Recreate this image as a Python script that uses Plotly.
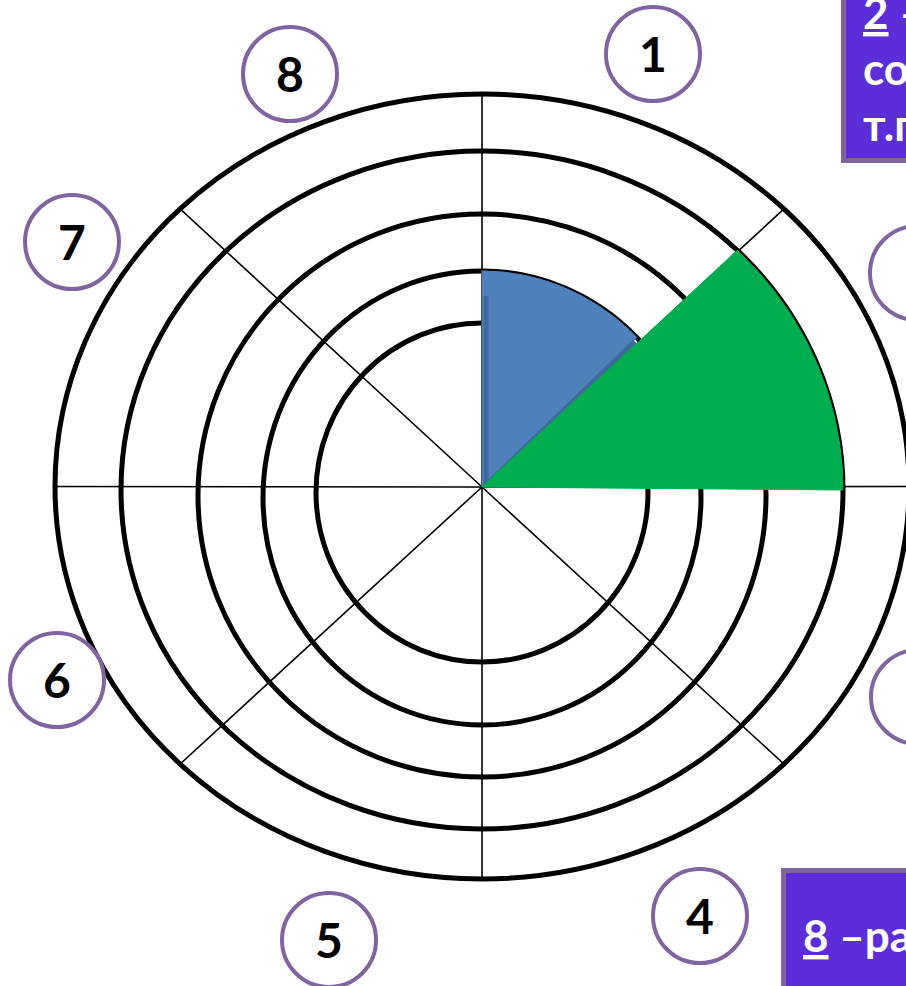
import numpy as np
import plotly.graph_objects as go

# ---------------- data ----------------
segments = ["1", "2", "3", "4", "5", "6", "7", "8"]      # sector labels, clockwise from top
segment_levels = [2, 4, 0, 0, 0, 0, 0, 0]                 # ring level reached by each sector
segment_colors = ["#4F81BD", "#00AE4F", None, None, None, None, None, None]
ring_levels = [1, 2, 3, 4, 5]
legend_top_lines = ["<u>2</u> –", "со", "т.п"]
legend_bottom_line = "<u>8</u> –ра"

# ---------------- layout geometry (pixels, centre of chart = origin) ----------------
W, H = 906, 986
CX, CY = 482, 487
ring_rx = [166, 219, 284, 361, 427]
ring_ry = [169.5, 227, 281.5, 339, 392.5]
ring_dy = [-5.5, -11, -8.5, -3, 0.5]
label_pos = {"1": (653, 54), "2": (917, 273), "3": (918, 697), "4": (700, 916),
             "5": (329, 940), "6": (57, 680), "7": (72, 242), "8": (290, 74)}
LABEL_R = 47


def px(x, y):
    return x - CX, CY - y


def ring_point(level, t):
    i = ring_levels.index(level)
    return ring_rx[i] * np.cos(t), ring_dy[i] + ring_ry[i] * np.sin(t)


fig = go.Figure()

shapes = []
# rings
for i, lv in enumerate(ring_levels):
    shapes.append(dict(type="circle", xref="x", yref="y", layer="below",
                       x0=-ring_rx[i], x1=ring_rx[i],
                       y0=ring_dy[i] - ring_ry[i], y1=ring_dy[i] + ring_ry[i],
                       line=dict(color="black", width=5)))
# spokes (sector borders)
n = len(segments)
for k in range(n):
    t = np.deg2rad(90 - 360 / n * k)
    ex, ey = ring_point(ring_levels[-1], t)
    shapes.append(dict(type="line", xref="x", yref="y", layer="below",
                       x0=0, y0=0, x1=ex, y1=ey,
                       line=dict(color="black", width=1.6)))

# sectors
for k, (lab, lv, col) in enumerate(zip(segments, segment_levels, segment_colors)):
    if lv <= 0 or col is None:
        continue
    t0 = np.deg2rad(90 - 360 / n * k)
    t1 = np.deg2rad(90 - 360 / n * (k + 1))
    ts = np.linspace(t0, t1, 60)
    ax_, ay_ = ring_point(lv, ts)
    xs = np.concatenate([[0], ax_, [0]])
    ys = np.concatenate([[0], ay_, [0]])
    fig.add_trace(go.Scatter(x=xs, y=ys, mode="lines", fill="toself",
                             fillcolor=col, line=dict(color=col, width=1),
                             hoverinfo="skip", showlegend=False))
    if k == 0:
        # darker bevel along the radial edges of the blue sector
        sx, sy = ring_point(lv, t0)
        ex, ey = ring_point(lv, t1)
        fig.add_trace(go.Scatter(x=[sx + 4, sx + 4, ex - 2], y=[sy - 25, 2, ey - 4], mode="lines",
                                 line=dict(color="#3E6A9C", width=5),
                                 hoverinfo="skip", showlegend=False))

# label circles
annotations = []
for lab in segments:
    cx, cy = px(*label_pos[lab])
    shapes.append(dict(type="circle", xref="x", yref="y", layer="above",
                       x0=cx - LABEL_R, x1=cx + LABEL_R, y0=cy - LABEL_R, y1=cy + LABEL_R,
                       fillcolor="white", line=dict(color="#8064A2", width=4)))
    annotations.append(dict(x=cx, y=cy + 1, xref="x", yref="y", text="<b>%s</b>" % lab,
                            showarrow=False, xanchor="center", yanchor="middle",
                            font=dict(family="Lato", size=48, color="black")))

# legend boxes
bx0, by0 = px(843.5, 160.5)
shapes.append(dict(type="rect", xref="x", yref="y", layer="above",
                   x0=bx0, x1=bx0 + 300, y0=by0, y1=by0 + 300,
                   fillcolor="#5B2ED9", line=dict(color="#8064A2", width=5)))
bx1, by1 = px(783.5, 870.5)
shapes.append(dict(type="rect", xref="x", yref="y", layer="above",
                   x0=bx1, x1=bx1 + 300, y0=by1 - 300, y1=by1,
                   fillcolor="#5B2ED9", line=dict(color="#8064A2", width=5)))

for i, line in enumerate(legend_top_lines):
    x, y = px(861, 12 + 56 * i)
    annotations.append(dict(x=x, y=y, xref="x", yref="y", text="<b>%s</b>" % line,
                            showarrow=False, xanchor="left", yanchor="middle",
                            font=dict(family="Lato", size=44, color="white")))
x, y = px(801, 935)
annotations.append(dict(x=x, y=y, xref="x", yref="y", text="<b>%s</b>" % legend_bottom_line,
                        showarrow=False, xanchor="left", yanchor="middle",
                        font=dict(family="Lato", size=44, color="white")))

fig.update_layout(
    width=W, height=H, margin=dict(l=0, r=0, t=0, b=0),
    paper_bgcolor="white", plot_bgcolor="white", showlegend=False,
    xaxis=dict(range=[-CX, W - CX], visible=False, fixedrange=True),
    yaxis=dict(range=[CY - H, CY], visible=False, fixedrange=True),
    shapes=shapes, annotations=annotations,
)

fig.write_html("out.html", config={"displayModeBar": False, "staticPlot": True},
               post_script="document.body.style.margin='0';document.body.style.overflow='hidden';")
